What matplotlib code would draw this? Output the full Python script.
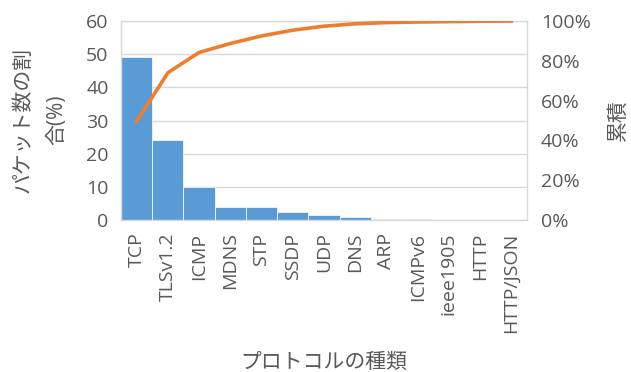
import numpy as np
import matplotlib.pyplot as plt
from matplotlib.ticker import FuncFormatter

plt.rcParams['font.family'] = ['Open Sans', 'Noto Sans CJK JP', 'DejaVu Sans']

protocols = ["TCP", "TLSv1.2", "ICMP", "MDNS", "STP", "SSDP", "UDP", "DNS",
             "ARP", "ICMPv6", "ieee1905", "HTTP", "HTTP/JSON"]
share = [49.3, 24.0, 9.85, 4.0, 4.0, 2.4, 1.4, 0.85, 0.45, 0.2, 0.03, 0.02, 0.01]
cumulative = [49.5, 74.0, 84.2, 88.7, 92.5, 95.4, 97.4, 98.6, 99.2, 99.5, 99.7, 99.9, 100.0]

text_c = "#595959"
grid_c = "#D9D9D9"

fig = plt.figure(figsize=(6.31, 3.72), dpi=100)
ax = fig.add_axes([0.1918, 0.4086, 0.6434, 0.5349])
x = np.arange(len(protocols))

ax.bar(x, share, width=1.0, color="#5B9BD5", edgecolor="white", linewidth=0.5, zorder=2)
ax.set_xlim(-0.5, len(protocols) - 0.5)
ax.set_ylim(0, 60)
ax.set_yticks(range(0, 61, 10))
ax.yaxis.grid(True, color=grid_c, linewidth=1.0, zorder=0)
ax.set_axisbelow(True)
for s in ax.spines.values():
    s.set_color(grid_c)
    s.set_linewidth(1.0)
ax.set_xticks(x)
ax.set_xticklabels(protocols, rotation=90)
ax.tick_params(axis='both', length=0, labelsize=14, labelcolor=text_c)
ax.tick_params(axis='y', pad=9)
ax.tick_params(axis='x', pad=9)

# axis titles placed in figure pixels
fig.text(40 / 631, 1 - 120 / 372, "パケット数の割\n合(%)", rotation=90,
         fontsize=15, color=text_c, ha='center', va='center', linespacing=1.75)
fig.text(324 / 631, 1 - 362 / 372, "プロトコルの種類", fontsize=15,
         color=text_c, ha='center', va='center')

ax2 = ax.twinx()
ax2.plot(x, cumulative, color="#ED7D31", linewidth=2.6, zorder=3)
ax2.set_ylim(0, 100)
ax2.set_yticks(range(0, 101, 20))
ax2.yaxis.set_major_formatter(FuncFormatter(lambda v, p: f"{int(v)}%"))
ax2.tick_params(axis='y', length=0, labelsize=14, labelcolor=text_c, pad=10)
for s in ax2.spines.values():
    s.set_visible(False)
fig.text(618 / 631, 1 - 120 / 372, "累積", rotation=90, fontsize=15,
         color=text_c, ha='center', va='center')

fig.savefig("out.png", dpi=100)
